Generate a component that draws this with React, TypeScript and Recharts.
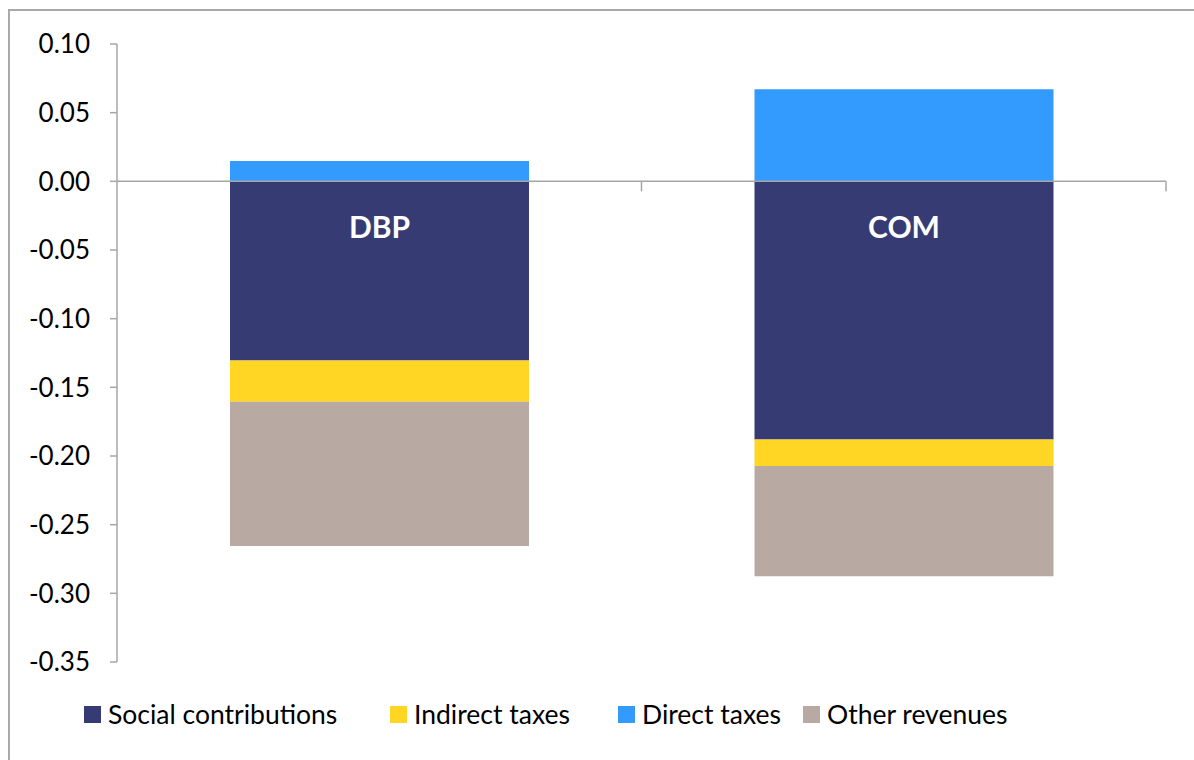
import React from 'react';
import { BarChart, Bar, XAxis, YAxis, ReferenceLine, LabelList } from 'recharts';

const categories = ['DBP', 'COM'];
const socialContributions = [-0.1305, -0.1879];
const indirectTaxes = [-0.03, -0.0194];
const directTaxes = [0.0148, 0.067];
const otherRevenues = [-0.1051, -0.0802];
const yTicks = [-0.35, -0.3, -0.25, -0.2, -0.15, -0.1, -0.05, 0, 0.05, 0.1];
const categoryBoundaries = [1, 2];

const series = [
  { key: 'social', name: 'Social contributions', values: socialContributions, color: '#363B73' },
  { key: 'indirect', name: 'Indirect taxes', values: indirectTaxes, color: '#FFD624' },
  { key: 'direct', name: 'Direct taxes', values: directTaxes, color: '#339AFE' },
  { key: 'other', name: 'Other revenues', values: otherRevenues, color: '#B8A9A2' },
];

const data = categories.map((name, i) => {
  const row: Record<string, any> = { name, idx: i + 0.5 };
  series.forEach((s) => {
    row[s.key] = s.values[i];
  });
  return row;
});

const AXIS = '#A6A6A6';
const FONT = 'Lato, "Open Sans", sans-serif';
const legendLefts = [84, 390, 618, 803];

const renderCatLabel = (props: any) => {
  const { x, y, width, height, value } = props;
  const top = Math.min(y, y + height);
  return (
    <text
      x={x + width / 2}
      y={top + 45}
      textAnchor="middle"
      dominantBaseline="central"
      fill="#FFFFFF"
      fontFamily={FONT}
      fontWeight={700}
      fontSize={30}
    >
      {value}
    </text>
  );
};

export default function App() {
  return (
    <div
      style={{
        position: 'absolute',
        left: 0,
        top: 0,
        width: 1194,
        height: 760,
        overflow: 'hidden',
        background: '#FFFFFF',
        fontFamily: FONT,
      }}
    >
      <div
        style={{
          position: 'absolute',
          left: 8,
          top: 9,
          width: 1400,
          height: 1000,
          border: '2px solid #A9A9A9',
          boxSizing: 'border-box',
        }}
      />
      <div style={{ position: 'absolute', left: 0, top: 0 }}>
        <BarChart
          width={1194}
          height={760}
          data={data}
          stackOffset="sign"
          margin={{ top: 44, right: 28, bottom: 98, left: 10 }}
          barSize={299}
        >
          <XAxis dataKey="name" hide />
          <XAxis
            xAxisId="n"
            dataKey="idx"
            type="number"
            domain={[0, 2]}
            allowDataOverflow
            hide
          />
          <YAxis
            type="number"
            domain={[-0.35, 0.1]}
            ticks={yTicks}
            interval={0}
            width={107}
            tickFormatter={(v: number) => v.toFixed(2)}
            stroke={AXIS}
            strokeWidth={1.5}
            tickSize={7}
            tickMargin={20}
            tickLine={{ stroke: AXIS, strokeWidth: 1.5 }}
            tick={{ fill: '#000000', fontSize: 26, fontFamily: FONT }}
          />
          {series.map((s) => (
            <Bar
              key={s.key}
              dataKey={s.key}
              name={s.name}
              stackId="a"
              fill={s.color}
              isAnimationActive={false}
            >
              {s.key === 'social' ? (
                <LabelList dataKey="name" content={renderCatLabel} />
              ) : null}
            </Bar>
          ))}
          <ReferenceLine y={0} stroke={AXIS} strokeWidth={1.5} />
          {categoryBoundaries.map((b) => (
            <ReferenceLine
              key={b}
              xAxisId="n"
              ifOverflow="visible"
              segment={[
                { x: b, y: 0 },
                { x: b, y: -0.0073 },
              ]}
              stroke={AXIS}
              strokeWidth={1.5}
            />
          ))}
        </BarChart>
      </div>
      {series.map((s, i) => (
        <div
          key={s.key}
          style={{
            position: 'absolute',
            left: legendLefts[i],
            top: 697,
            height: 34,
            display: 'flex',
            alignItems: 'center',
            whiteSpace: 'nowrap',
          }}
        >
          <div style={{ width: 17, height: 17, background: s.color, marginRight: 7 }} />
          <span style={{ fontSize: 26.5, color: '#000000', fontFamily: FONT }}>{s.name}</span>
        </div>
      ))}
    </div>
  );
}
